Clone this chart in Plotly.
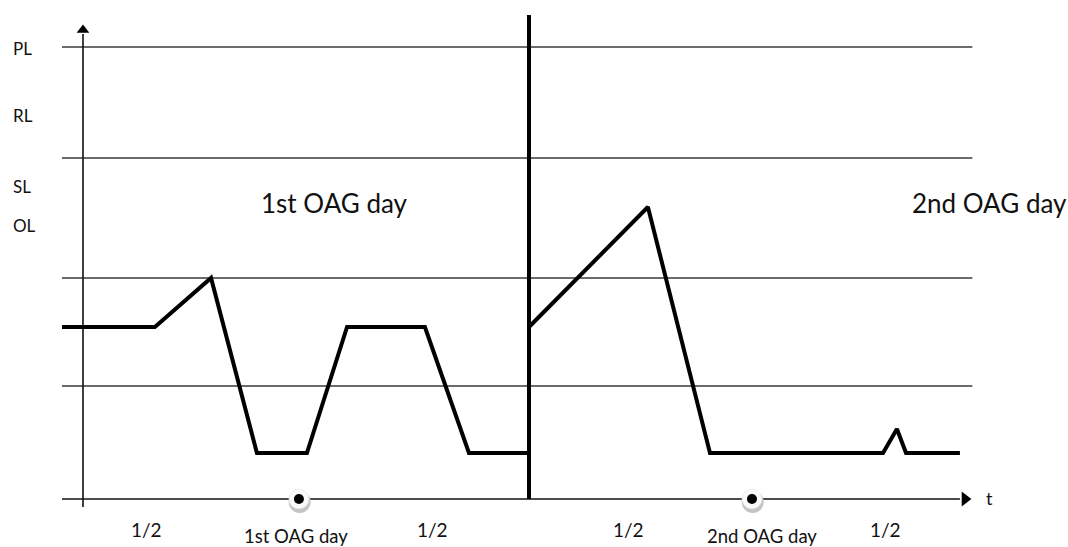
import plotly.graph_objects as go

# ---- data (time in hours, level in arbitrary units) ----
t_values = [-1.13, 3.87, 6.89, 9.36, 12.05, 14.21, 18.40, 20.77, 24.0,
            None,
            24.0, 30.40, 33.74, 43.05, 43.80, 44.29, 47.19]
level_values = [17.2, 17.2, 22.1, 4.6, 4.6, 17.2, 17.2, 4.6, 4.6,
                None,
                17.2, 29.2, 4.6, 4.6, 7.0, 4.6, 4.6]

threshold_levels = [11.3, 22.1, 34.1, 45.2]
level_names = ["PL", "RL", "SL", "OL"]
level_name_pos = [45.1, 38.4, 31.3, 27.4]

day_boundary = 24.0
day_marks_t = [11.62, 36.0]
day_mark_labels = ["1st OAG day", "2nd OAG day"]
day_mark_label_t = [11.46, 36.54]
half_labels = ["1/2", "1/2", "1/2", "1/2"]
half_label_t = [3.44, 18.83, 29.38, 43.16]
day_titles = ["1st OAG day", "2nd OAG day"]
day_title_t = [13.56, 48.8]
day_title_level = 29.6

X_RANGE = [-4.466, 53.006]
Y_RANGE = [-4.8, 49.9]
LINE_START = -1.13
LINE_END = 47.86
AXIS_END = 47.19
FONT = "Lato"

fig = go.Figure()

shapes = []
# threshold lines
for lv in threshold_levels:
    shapes.append(dict(type="line", xref="x", yref="y", x0=LINE_START, x1=LINE_END,
                       y0=lv, y1=lv, layer="below", line=dict(color="#3a3a3a", width=1.6)))
# x axis
shapes.append(dict(type="line", xref="x", yref="y", x0=LINE_START, x1=AXIS_END,
                   y0=0, y1=0, layer="below", line=dict(color="#111", width=1.6)))
# y axis
shapes.append(dict(type="line", xref="x", yref="y", x0=0, x1=0,
                   y0=-0.8, y1=46.5, layer="below", line=dict(color="#111", width=1.6)))
# day boundary
shapes.append(dict(type="line", xref="x", yref="y", x0=day_boundary, x1=day_boundary,
                   y0=0, y1=48.4, layer="below", line=dict(color="#000", width=4)))
fig.update_layout(shapes=shapes)

# data line
fig.add_trace(go.Scatter(x=t_values, y=level_values, mode="lines",
                         line=dict(color="#000", width=4), connectgaps=False,
                         hoverinfo="skip", showlegend=False))

# arrowheads
fig.add_trace(go.Scatter(x=[47.46], y=[0], mode="markers",
                         marker=dict(symbol="triangle-right", size=13, color="#000"),
                         showlegend=False, hoverinfo="skip"))
fig.add_trace(go.Scatter(x=[0], y=[46.9], mode="markers",
                         marker=dict(symbol="triangle-up", size=11, color="#000"),
                         showlegend=False, hoverinfo="skip"))

# day markers (halo + dot)
fig.add_trace(go.Scatter(x=[t + 0.04 for t in day_marks_t], y=[-0.3] * len(day_marks_t),
                         mode="markers",
                         marker=dict(size=22, color="#c4c4c4", line=dict(width=0)),
                         showlegend=False, hoverinfo="skip"))
fig.add_trace(go.Scatter(x=day_marks_t, y=[0] * len(day_marks_t), mode="markers",
                         marker=dict(size=20, color="#f9f9f9", line=dict(width=0.6, color="#e2e2e2")),
                         showlegend=False, hoverinfo="skip"))
fig.add_trace(go.Scatter(x=day_marks_t, y=[0] * len(day_marks_t), mode="markers",
                         marker=dict(size=10, color="#000"),
                         showlegend=False, hoverinfo="skip"))

annotations = []
for name, pos in zip(level_names, level_name_pos):
    annotations.append(dict(x=-3.9, y=pos, xref="x", yref="y", text=name, showarrow=False,
                            xanchor="left", yanchor="middle",
                            font=dict(family=FONT, size=17, color="#111")))
for txt, tx in zip(half_labels, half_label_t):
    annotations.append(dict(x=tx, y=-3.0, xref="x", yref="y", text=txt, showarrow=False,
                            xanchor="center", yanchor="middle",
                            font=dict(family=FONT, size=19, color="#111")))
for txt, tx in zip(day_mark_labels, day_mark_label_t):
    annotations.append(dict(x=tx, y=-3.65, xref="x", yref="y", text=txt, showarrow=False,
                            xanchor="center", yanchor="middle",
                            font=dict(family=FONT, size=18.5, color="#111")))
for txt, tx in zip(day_titles, day_title_t):
    annotations.append(dict(x=tx, y=day_title_level, xref="x", yref="y", text=txt, showarrow=False,
                            xanchor="center", yanchor="middle",
                            font=dict(family=FONT, size=26, color="#111")))
annotations.append(dict(x=48.8, y=0.1, xref="x", yref="y", text="t", showarrow=False,
                        xanchor="center", yanchor="middle",
                        font=dict(family=FONT, size=18, color="#111")))
fig.update_layout(annotations=annotations)

fig.update_layout(
    width=1068, height=547,
    margin=dict(l=0, r=0, t=0, b=0),
    paper_bgcolor="white", plot_bgcolor="white",
    xaxis=dict(range=X_RANGE, visible=False, fixedrange=True),
    yaxis=dict(range=Y_RANGE, visible=False, fixedrange=True),
    showlegend=False,
)

fig.write_html("out.html", config={"displayModeBar": False},
               post_script="document.body.style.margin='0';document.body.style.overflow='hidden';")
